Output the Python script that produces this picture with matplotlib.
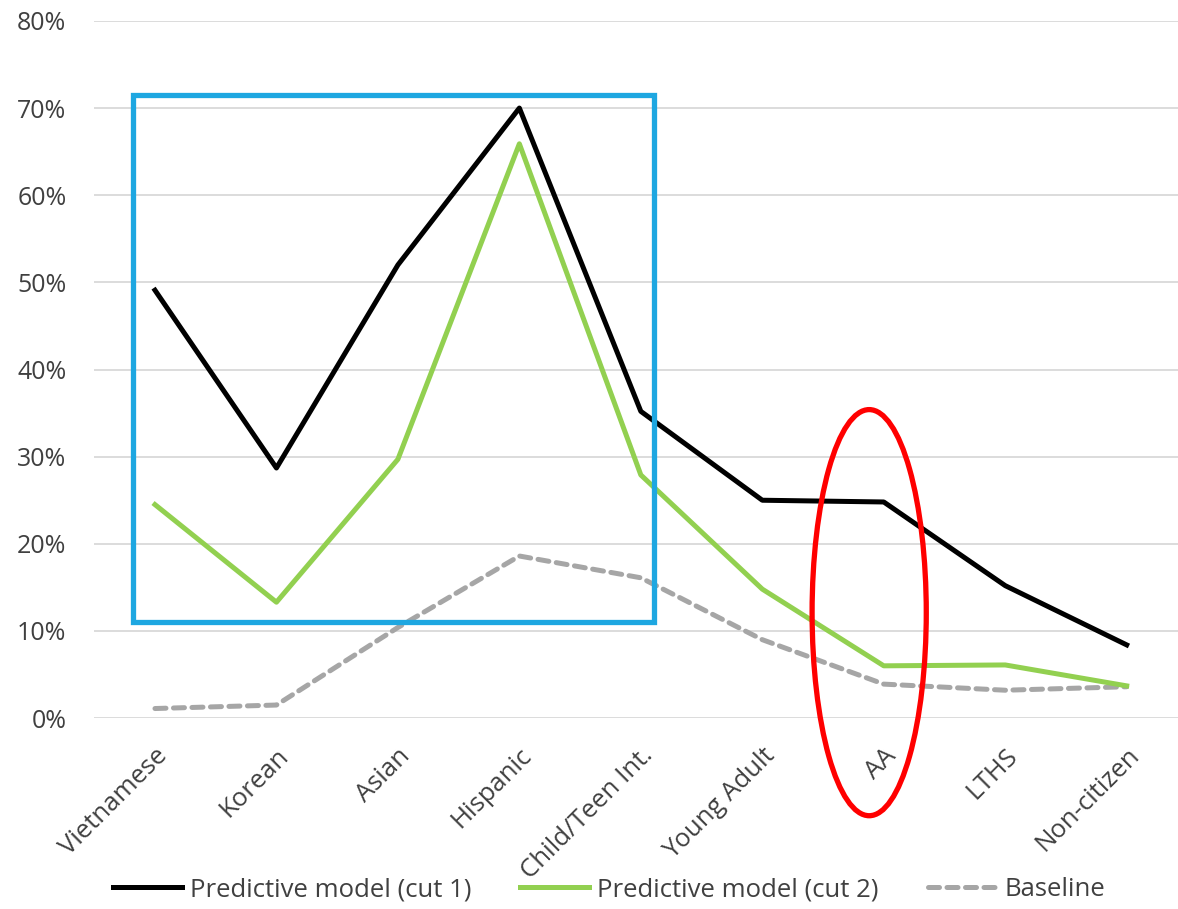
import matplotlib.pyplot as plt
from matplotlib.patches import Rectangle, Ellipse
from matplotlib.ticker import FuncFormatter

plt.rcParams['font.family'] = ['Open Sans', 'DejaVu Sans']

groups = ['Vietnamese', 'Korean', 'Asian', 'Hispanic', 'Child/Teen Int.',
          'Young Adult', 'AA', 'LTHS', 'Non-citizen']
cut1 = [49.1, 28.7, 52.0, 70.0, 35.2, 25.0, 24.8, 15.2, 8.4]
cut2 = [24.5, 13.3, 29.7, 65.9, 27.9, 14.8, 6.0, 6.1, 3.7]
baseline = [1.1, 1.5, 10.4, 18.6, 16.1, 9.0, 3.9, 3.2, 3.6]

fig = plt.figure(figsize=(11.78, 9.09), dpi=100)
ax = fig.add_axes([0.080, 0.210, 0.928, 0.767])

x = range(len(groups))
ax.plot(x, cut1, color='black', lw=3.6, label='Predictive model (cut 1)', zorder=3)
ax.plot(x, cut2, color='#92d050', lw=3.6, label='Predictive model (cut 2)', zorder=3)
ax.plot(x, baseline, color='#a6a6a6', lw=3.6, ls=(0, (2.2, 1.5)),
        dash_capstyle='round', label='Baseline', zorder=2)

ax.set_xlim(-0.5, len(groups) - 0.5)
ax.set_ylim(0, 80)
ax.set_yticks(range(0, 81, 10))
ax.yaxis.set_major_formatter(FuncFormatter(lambda v, p: f'{v:.0f}%'))
ax.grid(axis='y', color='#d9d9d9', lw=1.3)
ax.set_axisbelow(True)
for s in ax.spines.values():
    s.set_visible(False)
ax.tick_params(length=0, labelsize=18, colors='#404040')
ax.tick_params(axis='x', pad=18, labelsize=18.5)
ax.tick_params(axis='y', pad=20)
ax.set_xticks(list(x))
ax.set_xticklabels(groups, rotation=45, ha='right', rotation_mode='anchor')

# highlight boxes
ax.add_patch(Rectangle((-0.18, 11.0), 4.29, 60.5, fill=False, ec='#1ea7e1',
                       lw=3.8, clip_on=False, zorder=4))
ax.add_patch(Ellipse((5.88, 12.1), 0.94, 46.6, fill=False, ec='red',
                     lw=3.8, clip_on=False, zorder=4))

fig.legend(loc='lower center', ncol=3, frameon=False, fontsize=18.5,
           bbox_to_anchor=(0.517, -0.018), handlelength=2.7, columnspacing=1.9,
           handletextpad=0.3, labelcolor='#404040')

fig.savefig('out.png', dpi=100)
